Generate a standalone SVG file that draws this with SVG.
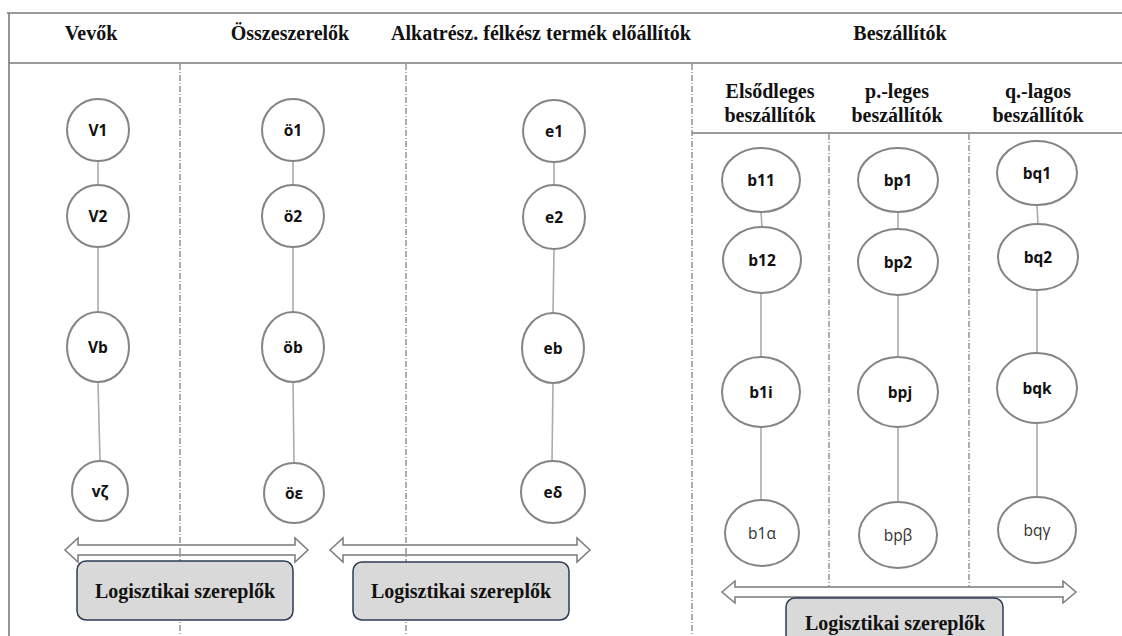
<svg xmlns="http://www.w3.org/2000/svg" width="1122" height="636" viewBox="0 0 1122 636">
  <style>
    .frame { stroke: #7a7a7a; stroke-width: 1.6; fill: none; }
    .divider { stroke: #8a8a8a; stroke-width: 1.4; stroke-dasharray: 6 2 1 2; fill: none; }
    .head { font-family: "Liberation Serif", "Times New Roman", serif; font-weight: bold; font-size: 20px; fill: #111; text-anchor: middle; }
    .node ellipse { fill: #fff; stroke: #848484; stroke-width: 2; }
    .node text { font-family: "Open Sans", "Noto Sans", sans-serif; font-weight: bold; font-size: 15.5px; fill: #111; text-anchor: middle; dominant-baseline: central; }
    .node text.thin { font-weight: normal; fill: #333; }
    .link { stroke: #ababab; stroke-width: 1.6; fill: none; }
    .flow { fill: #fff; stroke: #7a7a7a; stroke-width: 1.5; stroke-linejoin: miter; }
    .actor rect { fill: #d9d9d9; stroke: #2e3b55; stroke-width: 1.5; }
  </style>

  <!-- outer frame and header rules -->
  <g id="frame">
    <line class="frame" x1="7" y1="13" x2="1122" y2="13"/>
    <line class="frame" x1="9" y1="13" x2="9" y2="636"/>
    <line class="frame" x1="9" y1="63" x2="1122" y2="63"/>
    <line class="frame" x1="692" y1="133" x2="1122" y2="133"/>
  </g>

  <!-- column headings -->
  <g id="headings">
    <text class="head" x="91" y="40">Vevők</text>
    <text class="head" x="290" y="40">Összeszerelők</text>
    <text class="head" x="541" y="40">Alkatrész. félkész termék előállítók</text>
    <text class="head" x="900" y="40">Beszállítók</text>
    <text class="head" x="770" y="98">Elsődleges</text>
    <text class="head" x="770" y="122">beszállítók</text>
    <text class="head" x="897" y="98">p.-leges</text>
    <text class="head" x="897" y="122">beszállítók</text>
    <text class="head" x="1038" y="98">q.-lagos</text>
    <text class="head" x="1038" y="122">beszállítók</text>
  </g>

  <!-- logistics flow arrows -->
  <g id="flows">
    <path class="flow" d="M65,550 L78,538 L78,545 L295,545 L295,538 L308,550 L295,562 L295,555 L78,555 L78,562 Z"/>
    <path class="flow" d="M330,550 L343,538 L343,545 L577,545 L577,538 L590,550 L577,562 L577,555 L343,555 L343,562 Z"/>
    <path class="flow" d="M722,592 L735,581 L735,587 L1063,587 L1063,581 L1076,592 L1063,603 L1063,597 L735,597 L735,603 Z"/>
  </g>

  <!-- column dividers -->
  <g id="dividers">
    <line class="divider" x1="180" y1="64" x2="180" y2="636"/>
    <line class="divider" x1="406" y1="64" x2="406" y2="636"/>
    <line class="divider" x1="692" y1="64" x2="692" y2="636"/>
    <line class="divider" x1="829" y1="134" x2="829" y2="587"/>
    <line class="divider" x1="969" y1="134" x2="969" y2="587"/>
  </g>

  <!-- chain connectors -->
  <g id="connectors">
    <line class="link" x1="98" y1="161" x2="98" y2="185"/>
    <line class="link" x1="98" y1="247" x2="98" y2="312"/>
    <line class="link" x1="98" y1="382" x2="100" y2="461"/>
    <line class="link" x1="293" y1="161" x2="293" y2="185"/>
    <line class="link" x1="293" y1="247" x2="293" y2="312"/>
    <line class="link" x1="293" y1="382" x2="294" y2="463"/>
    <line class="link" x1="554" y1="162" x2="554" y2="185"/>
    <line class="link" x1="554" y1="249" x2="553" y2="313"/>
    <line class="link" x1="553" y1="383" x2="552" y2="461"/>
    <line class="link" x1="761" y1="212" x2="762" y2="227"/>
    <line class="link" x1="761" y1="293" x2="761" y2="357"/>
    <line class="link" x1="761" y1="427" x2="761" y2="500"/>
    <line class="link" x1="898" y1="212" x2="898" y2="229"/>
    <line class="link" x1="898" y1="295" x2="898" y2="357"/>
    <line class="link" x1="898" y1="427" x2="898" y2="502"/>
    <line class="link" x1="1037" y1="205" x2="1038" y2="224"/>
    <line class="link" x1="1037" y1="290" x2="1037" y2="353"/>
    <line class="link" x1="1037" y1="423" x2="1037" y2="497"/>
  </g>

  <!-- customers -->
  <g id="V1" class="node"><ellipse cx="98" cy="130" rx="31" ry="31"/><text x="98" y="130">V1</text></g>
  <g id="V2" class="node"><ellipse cx="98" cy="216" rx="31" ry="31"/><text x="98" y="216">V2</text></g>
  <g id="Vb" class="node"><ellipse cx="98" cy="347" rx="31" ry="35"/><text x="98" y="347">Vb</text></g>
  <g id="Vz" class="node"><ellipse cx="100" cy="491" rx="28" ry="30"/><text x="100" y="491">vζ</text></g>

  <!-- assemblers -->
  <g id="o1" class="node"><ellipse cx="293" cy="130" rx="31" ry="31"/><text x="293" y="130">ö1</text></g>
  <g id="o2" class="node"><ellipse cx="293" cy="216" rx="31" ry="31"/><text x="293" y="216">ö2</text></g>
  <g id="ob" class="node"><ellipse cx="293" cy="347" rx="31" ry="35"/><text x="293" y="347">öb</text></g>
  <g id="oe" class="node"><ellipse cx="294" cy="493" rx="30" ry="30"/><text x="294" y="493">öε</text></g>

  <!-- component makers -->
  <g id="e1" class="node"><ellipse cx="554" cy="131" rx="31" ry="31"/><text x="554" y="131">e1</text></g>
  <g id="e2" class="node"><ellipse cx="554" cy="217" rx="31" ry="32"/><text x="554" y="217">e2</text></g>
  <g id="eb" class="node"><ellipse cx="553" cy="348" rx="31" ry="35"/><text x="553" y="348">eb</text></g>
  <g id="ed" class="node"><ellipse cx="553" cy="492" rx="32" ry="31"/><text x="553" y="492">eδ</text></g>

  <!-- primary suppliers -->
  <g id="b11" class="node"><ellipse cx="761" cy="180" rx="39" ry="32"/><text x="761" y="180">b11</text></g>
  <g id="b12" class="node"><ellipse cx="762" cy="260" rx="39" ry="33"/><text x="762" y="260">b12</text></g>
  <g id="b1i" class="node"><ellipse cx="761" cy="392" rx="39" ry="35"/><text x="761" y="392">b1i</text></g>
  <g id="b1a" class="node"><ellipse cx="762" cy="533" rx="37" ry="33"/><text class="thin" x="762" y="533">b1α</text></g>

  <!-- p-level suppliers -->
  <g id="bp1" class="node"><ellipse cx="898" cy="180" rx="40" ry="32"/><text x="898" y="180">bp1</text></g>
  <g id="bp2" class="node"><ellipse cx="898" cy="262" rx="40" ry="33"/><text x="898" y="262">bp2</text></g>
  <g id="bpj" class="node"><ellipse cx="898" cy="392" rx="40" ry="35"/><text x="900" y="392">bpj</text></g>
  <g id="bpb" class="node"><ellipse cx="898" cy="535" rx="39" ry="33"/><text class="thin" x="898" y="535">bpβ</text></g>

  <!-- q-level suppliers -->
  <g id="bq1" class="node"><ellipse cx="1037" cy="173" rx="40" ry="32"/><text x="1037" y="173">bq1</text></g>
  <g id="bq2" class="node"><ellipse cx="1038" cy="257" rx="40" ry="33"/><text x="1038" y="257">bq2</text></g>
  <g id="bqk" class="node"><ellipse cx="1037" cy="388" rx="40" ry="35"/><text x="1037" y="388">bqk</text></g>
  <g id="bqg" class="node"><ellipse cx="1037" cy="530" rx="39" ry="33"/><text class="thin" x="1037" y="530">bqγ</text></g>

  <!-- logistics actors -->
  <g id="actor1" class="actor">
    <rect x="77" y="561" width="216" height="59" rx="9"/>
    <text class="head" x="185" y="598">Logisztikai szereplők</text>
  </g>
  <g id="actor2" class="actor">
    <rect x="353" y="562" width="216" height="58" rx="9"/>
    <text class="head" x="461" y="598">Logisztikai szereplők</text>
  </g>
  <g id="actor3" class="actor">
    <rect x="786" y="598" width="217" height="50" rx="9"/>
    <text class="head" x="895" y="630">Logisztikai szereplők</text>
  </g>
</svg>
